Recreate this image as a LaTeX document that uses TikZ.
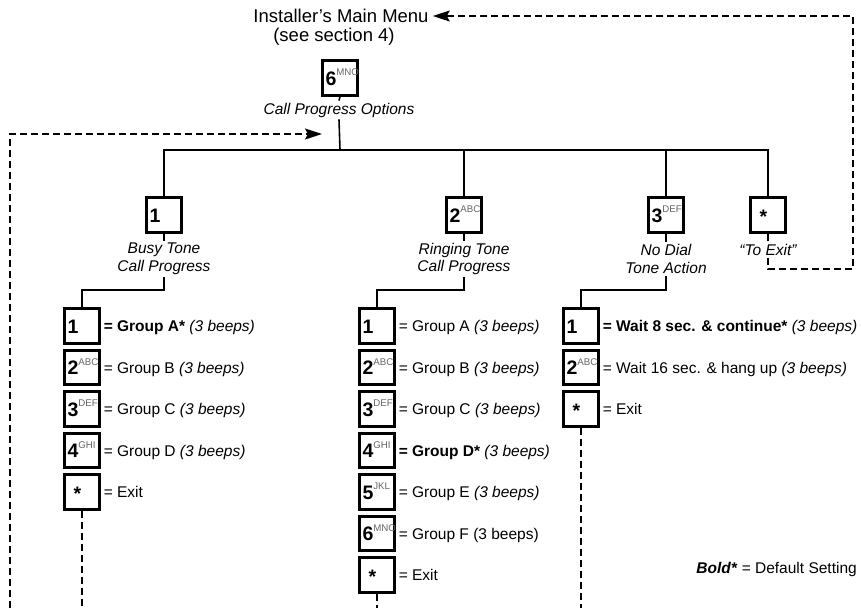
\documentclass[tikz,border=0pt]{standalone}
\usepackage{fontspec}
\setmainfont{Liberation Sans}
\usetikzlibrary{arrows.meta,calc}

\definecolor{lettergray}{gray}{0.4}

% key cap faces: bold digit with small grey letters, or a lone star;
% the face is smashed so that its baseline sits a fixed distance below the key centre
\newcommand{\kf}[2]{\smash{\raisebox{-7pt}{\makebox[31pt][l]{\hspace{1pt}\fontsize{19.5}{19.5}\selectfont\bfseries #1\raisebox{9.5pt}{\fontsize{9.7}{9.7}\selectfont\mdseries\color{lettergray}#2}}}}}
\newcommand{\kstar}{\smash{\raisebox{-8.5pt}{\makebox[31pt][l]{\hspace{7pt}\fontsize{19.5}{19.5}\selectfont\bfseries *}}}}

\tikzset{
  keybox/.style={draw, line width=2.6pt, minimum width=34.5pt, minimum height=34.5pt, inner sep=0pt, fill=white},
  wire/.style={line width=1.6pt},
  retline/.style={line width=1.5pt, dash pattern=on 7pt off 4pt},
  keylabel/.style={font=\itshape\fontsize{15.5}{17.5}\selectfont, align=center, inner sep=2pt},
  rowtext/.style={anchor=base west, inner sep=0pt, font=\fontsize{15.5}{17.5}\selectfont},
  titletext/.style={inner sep=0pt, font=\fontsize{18.5}{20}\selectfont},
  tip/.style={-{Stealth[length=17pt,width=11pt,inset=3pt]}},
}

\begin{document}
\begin{tikzpicture}[x=1pt,y=-1pt]
\useasboundingbox[fill=white] (0,0) rectangle (861,608);

% menu header
\node[titletext] (menu) at (341,16) {Installer’s Main Menu};
\node[titletext] (sect) at (334,37) {(see section 4)};
\node[keybox] (k6) at (340,78) {\kf{6}{MNO}};
\node[keylabel] (cpo) at (339,110) {Call Progress Options};
\coordinate (hub) at (340,150);

% first level keys
\node[keybox] (b1) at (164,215) {\kf{1}{}};
\node[keybox] (b2) at (464,215) {\kf{2}{ABC}};
\node[keybox] (b3) at (666,215) {\kf{3}{DEF}};
\node[keybox] (bx) at (768,215) {\kstar};

\node[keylabel] (l1) at (164,259) {Busy Tone\\Call Progress};
\node[keylabel] (l2) at (464,259) {Ringing Tone\\Call Progress};
\node[keylabel] (l3) at (666,259) {No Dial\\Tone Action};
\node[keylabel] (lx) at (768,250) {“To Exit”};

% busy tone options
\node[keybox] (p1) at (82,326)   {\kf{1}{}};
\node[keybox] (p2) at (82,367.5) {\kf{2}{ABC}};
\node[keybox] (p3) at (82,409)   {\kf{3}{DEF}};
\node[keybox] (p4) at (82,450.5) {\kf{4}{GHI}};
\node[keybox] (p5) at (82,492)   {\kstar};
\node[rowtext] (p1t) at ($(p1.east)+(3,5.5)$) {\textbf{= Group A*} \textit{(3 beeps)}};
\node[rowtext] (p2t) at ($(p2.east)+(3,5.5)$) {= Group B \textit{(3 beeps)}};
\node[rowtext] (p3t) at ($(p3.east)+(3,5.5)$) {= Group C \textit{(3 beeps)}};
\node[rowtext] (p4t) at ($(p4.east)+(3,5.5)$) {= Group D \textit{(3 beeps)}};
\node[rowtext] (p5t) at ($(p5.east)+(3,5.5)$) {= Exit};

% ringing tone options
\node[keybox] (q1) at (377,326)   {\kf{1}{}};
\node[keybox] (q2) at (377,367.5) {\kf{2}{ABC}};
\node[keybox] (q3) at (377,409)   {\kf{3}{DEF}};
\node[keybox] (q4) at (377,450.5) {\kf{4}{GHI}};
\node[keybox] (q5) at (377,492)   {\kf{5}{JKL}};
\node[keybox] (q6) at (377,533.5) {\kf{6}{MNO}};
\node[keybox] (q7) at (377,575)   {\kstar};
\node[rowtext] (q1t) at ($(q1.east)+(3,5.5)$) {= Group A \textit{(3 beeps)}};
\node[rowtext] (q2t) at ($(q2.east)+(3,5.5)$) {= Group B \textit{(3 beeps)}};
\node[rowtext] (q3t) at ($(q3.east)+(3,5.5)$) {= Group C \textit{(3 beeps)}};
\node[rowtext] (q4t) at ($(q4.east)+(3,5.5)$) {\textbf{= Group D*} \textit{(3 beeps)}};
\node[rowtext] (q5t) at ($(q5.east)+(3,5.5)$) {= Group E \textit{(3 beeps)}};
\node[rowtext] (q6t) at ($(q6.east)+(3,5.5)$) {= Group F (3 beeps)};
\node[rowtext] (q7t) at ($(q7.east)+(3,5.5)$) {= Exit};

% no dial tone options
\node[keybox] (r1) at (581,326)   {\kf{1}{}};
\node[keybox] (r2) at (581,367.5) {\kf{2}{ABC}};
\node[keybox] (r3) at (581,409)   {\kstar};
\node[rowtext] (r1t) at ($(r1.east)+(3,5.5)$) {\textbf{= Wait 8 sec. \& continue*} \textit{(3 beeps)}};
\node[rowtext] (r2t) at ($(r2.east)+(3,5.5)$) {= Wait 16 sec. \& hang up \textit{(3 beeps)}};
\node[rowtext] (r3t) at ($(r3.east)+(3,5.5)$) {= Exit};

\node[anchor=base east, inner sep=0pt, font=\fontsize{15.5}{17.5}\selectfont] (legend) at (857,573) {\textbf{\textit{Bold*}} = Default Setting};

% tree connectors
\draw[wire] (k6.south) -- (cpo.north);
\draw[wire] (cpo.south) -- (hub);
\draw[wire] (hub) -| (b1.north);
\draw[wire] (hub) -| (b2.north);
\draw[wire] (hub) -| (b3.north);
\draw[wire] (hub) -| (bx.north);
\draw[wire] (b1.south) -- (l1.north);
\draw[wire] (b2.south) -- (l2.north);
\draw[wire] (b3.south) -- (l3.north);
\draw[wire] (l1.south) -- (l1.south |- 0,290) -| (p1.north);
\draw[wire] (l2.south) -- (l2.south |- 0,290) -| (q1.north);
\draw[wire] (l3.south) -- (l3.south |- 0,290) -| (r1.north);

% return paths
\coordinate (bl) at (10,608);
\coordinate (ret) at (322,134);
\coordinate (rc) at (853,269);
\draw[retline] (p5.south) -- (p5.south |- bl);
\draw[retline] (q7.south) -- (q7.south |- bl);
\draw[retline] (r3.south) -- (r3.south |- bl);
\draw[retline, tip] (bl) |- (ret);
\draw[retline] (bx.south) -- (lx.north);
\draw[retline, tip] (lx.south) |- (rc) |- ([xshift=4pt]menu.east);
\end{tikzpicture}
\end{document}
